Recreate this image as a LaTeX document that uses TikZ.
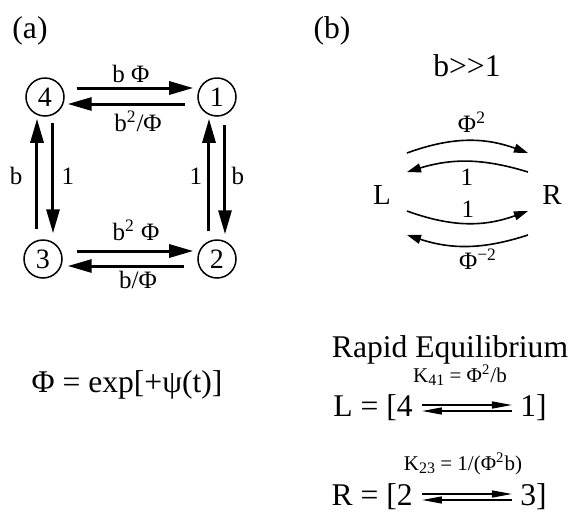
\documentclass[tikz,border=0pt]{standalone}
\usepackage{fontspec}
\setmainfont{Liberation Serif}
\usetikzlibrary{arrows.meta, calc, positioning}
\newcommand{\lowsub}[1]{\raisebox{-0.4ex}{\fontsize{8}{9}\selectfont #1}}
\tikzset{
  state/.style={circle, draw, line width=0.75pt, minimum size=19pt,
    inner sep=0pt, font=\fontsize{14}{16}\selectfont},
  rate/.style={inner sep=0pt, anchor=base, font=\fontsize{12.5}{14}\selectfont},
  bigtext/.style={inner sep=0pt, anchor=base, font=\fontsize{15.8}{18}\selectfont},
  ktext/.style={inner sep=0pt, anchor=base, font=\fontsize{10.5}{12}\selectfont},
  lr/.style={inner sep=0pt, font=\fontsize{14.5}{16}\selectfont},
  fat/.style={-{Triangle[length=12pt,width=6.5pt]}, line width=1.5pt},
  swing/.style={-{Triangle[length=7pt,width=4.5pt]}, line width=0.8pt},
  eqarrow/.style={-{Triangle[length=10pt,width=3.5pt]}, line width=0.7pt}
}
\begin{document}
\begin{tikzpicture}[x=0.5pt, y=0.5pt]
  \useasboundingbox (0,0) rectangle (570,-521);

  % (a) four-state cycle
  \node[bigtext] (lbla) at (30,-38) {(a)};
  \node[state] (s4) at (45,-97) {4};
  \node[state] (s1) at (217,-97) {1};
  \node[state] (s3) at (43,-259) {3};
  \node[state] (s2) at (217,-259) {2};

  \draw[fat] ($(s4.east)+(12,9)$) -- ($(s1.west)+(-4,9)$);
  \draw[fat] ($(s1.west)+(-12,-7)$) -- ($(s4.east)+(3,-7)$);
  \draw[fat] ($(s3.east)+(14,8)$) -- ($(s2.west)+(-4,8)$);
  \draw[fat] ($(s2.west)+(-13,-7)$) -- ($(s3.east)+(5,-7)$);
  \draw[fat] ($(s3.north)+(-6,10)$) -- ($(s4.south)+(-8,-2)$);
  \draw[fat] ($(s4.south)+(8,-6)$) -- ($(s3.north)+(10,6)$);
  \draw[fat] ($(s2.north)+(-8,8)$) -- ($(s1.south)+(-8,-2)$);
  \draw[fat] ($(s1.south)+(8,-8)$) -- ($(s2.north)+(8,5)$);

  \node[rate] (k41) at (131,-82) {b Φ};
  \node[rate] (k14) at (138,-131) {b\textsuperscript{2}/Φ};
  \node[rate] (k32) at (136,-240) {b\textsuperscript{2} Φ};
  \node[rate] (k23) at (138,-288) {b/Φ};
  \node[rate] (k34) at (16,-184) {b};
  \node[rate] (k43) at (68,-184) {1};
  \node[rate] (k21) at (196,-184) {1};
  \node[rate] (k12) at (238,-184) {b};

  \node[bigtext] (phidef) at (127,-392) {Φ = exp[+ψ(t)]};

  % (b) two-state reduction
  \node[bigtext] (lblb) at (332,-38) {(b)};
  \node[bigtext] (cond) at (467,-76) {b>\kern0pt>\kern0pt1};
  \node[lr] (L) at (382,-195) {L};
  \node[lr] (R) at (552,-195) {R};

  \draw[swing] ($(L)+(25,42)$) to[bend left=20] ($(R)+(-24,42)$);
  \draw[swing] ($(R)+(-24,23)$) to[bend right=17] ($(L)+(25,23)$);
  \draw[swing] ($(L)+(25,-16)$) to[bend right=20] ($(R)+(-24,-16)$);
  \draw[swing] ($(R)+(-24,-40)$) to[bend left=18] ($(L)+(25,-40)$);

  \node[rate] (kLR) at (472,-132) {Φ\textsuperscript{2}};
  \node[rate] (kRL) at (467,-185) {1};
  \node[rate] (kLR2) at (468,-217) {1};
  \node[rate] (kRL2) at (478,-269) {Φ\textsuperscript{−2}};

  \node[bigtext] (rapid) at (450,-357) {Rapid Equilibrium};
  \node[ktext] (K41) at (460,-382) {K\lowsub{41} = Φ\textsuperscript{2}/b};
  \node[bigtext, anchor=base east] (Lleft) at (413,-416) {L = [4};
  \node[bigtext, anchor=base west] (Lright) at (520,-416) {1]};
  \draw[eqarrow] ($(Lleft.base east)+(9,11)$) -- ($(Lright.base west)+(-8,11)$);
  \draw[eqarrow] ($(Lright.base west)+(-8,5)$) -- ($(Lleft.base east)+(9,5)$);

  \node[ktext] (K23) at (463,-470) {K\lowsub{23} = 1/(Φ\textsuperscript{2}b)};
  \node[bigtext, anchor=base east] (Rleft) at (413,-505) {R = [2};
  \node[bigtext, anchor=base west] (Rright) at (520,-505) {3]};
  \draw[eqarrow] ($(Rleft.base east)+(9,11)$) -- ($(Rright.base west)+(-8,11)$);
  \draw[eqarrow] ($(Rright.base west)+(-8,5)$) -- ($(Rleft.base east)+(9,5)$);
\end{tikzpicture}
\end{document}
